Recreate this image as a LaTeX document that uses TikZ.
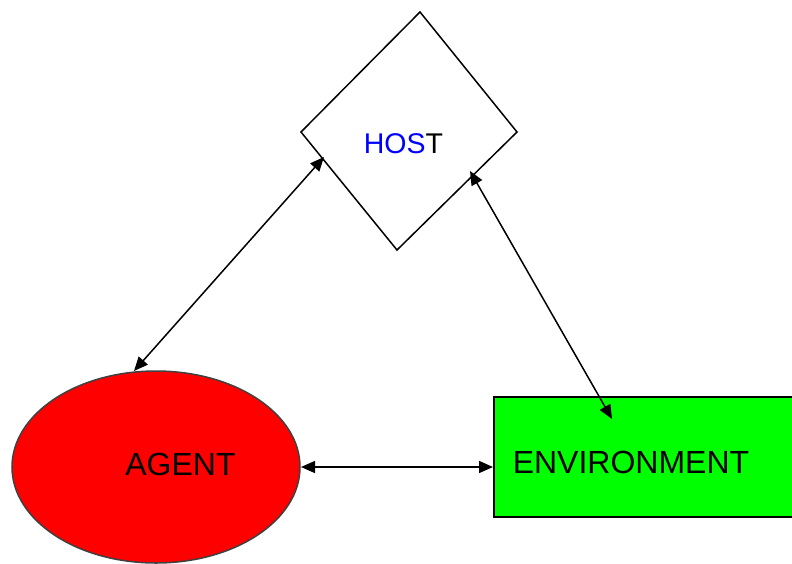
\documentclass[tikz,border=0pt]{standalone}
\usepackage{fontspec}
\setmainfont{Liberation Sans}
\usetikzlibrary{arrows.meta,shapes.geometric}
\tikzset{
  link/.style={line width=1.5pt, {Triangle[length=14pt,width=12pt]}-{Triangle[length=14pt,width=12pt]}},
  lbl/.style={inner sep=0pt, font=\fontsize{32}{38}\selectfont},
}
\begin{document}
\begin{tikzpicture}[x=1pt,y=-1pt]
\useasboundingbox (0,0) rectangle (792,563);
\clip (0,0) rectangle (792,563);
% diamond (host)
\coordinate (dT) at (420,12);
\coordinate (dR) at (517,132);
\coordinate (dB) at (397,250);
\coordinate (dL) at (301,132);
\draw[line width=1.5pt, line join=miter] (dT) -- (dR) -- (dB) -- (dL) -- cycle;
\node[lbl, font=\fontsize{28.5}{34}\selectfont] (host) at (403.5,143.5) {\textcolor{blue}{HOS}T};
% agent
\node[ellipse, draw=black!75, line width=1.5pt, fill=red, minimum width=288pt, minimum height=192pt, inner sep=0pt] (agent) at (156,467) {};
\node[lbl] (agenttext) at (180.5,464) {AGENT};
% environment
\node[rectangle, draw=black, line width=2pt, fill={rgb,255:red,0;green,255;blue,0}, minimum width=400pt, minimum height=120pt, inner sep=0pt, anchor=north west] (env) at (493,396) {};
\node[lbl] (envtext) at (631,462) {ENVIRONMENT};
% arrow ends
\coordinate (a1) at (134,371);
\coordinate (h1) at (324,157);
\coordinate (h2) at (470,171);
\coordinate (e1) at (612,419);
\coordinate (a2) at (301,467);
\coordinate (e2) at (493,467);
\draw[link] (a1) -- (h1);
\draw[link] (h2) -- (e1);
\draw[link] (a2) -- (e2);
\end{tikzpicture}
\end{document}
